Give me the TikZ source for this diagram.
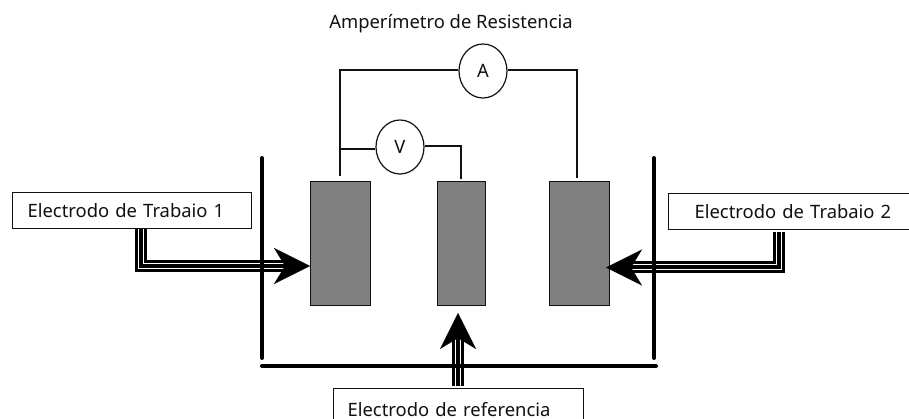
\documentclass[tikz,border=0pt]{standalone}
\usepackage{fontspec}
\setmainfont{Noto Sans}
\usetikzlibrary{arrows.meta,shapes.geometric}
\definecolor{elgray}{HTML}{808080}
\definecolor{ink}{HTML}{111111}
\tikzset{
  x=1pt,y=-1pt,
  every node/.style={font=\fontsize{18.4}{22}\selectfont,text=ink},
  electrode/.style={draw=ink,fill=elgray,line width=1.2pt,anchor=north west,inner sep=0pt},
  labelbox/.style={draw=ink,fill=white,line width=1.2pt,anchor=north west,inner xsep=0pt,inner ysep=0pt,minimum height=#1,align=left},
  meter/.style={ellipse,draw=ink,fill=white,line width=1.2pt,minimum width=48pt,minimum height=54pt,inner sep=0pt},
  wire/.style={draw=ink,line width=1.2pt},
  wall/.style={draw=black,line width=4pt,line cap=round},
  tribus/.style={draw=black,line width=12pt,
    postaction={draw=white,line width=6pt},
    postaction={draw=black,line width=4pt}},
  bighead/.style={draw=black,line width=0.1pt,-{Stealth[length=36pt,width=36pt,inset=11pt,fill=black]}},
}
\begin{document}
\begin{tikzpicture}
\useasboundingbox (0,0) rectangle (909,419);
\clip (0,0) rectangle (909,419);
% title
\node (title) at (451,24) {Amperímetro de Resistencia};
% electrodes
\node[electrode,minimum width=60pt,minimum height=124pt] (e1) at (310,181) {};
\node[electrode,minimum width=48pt,minimum height=124pt] (e2) at (437,181) {};
\node[electrode,minimum width=60pt,minimum height=124pt] (e3) at (549,181) {};
% container
\coordinate (wl1) at (262,158);
\coordinate (wl2) at (262,358);
\coordinate (wr1) at (654,158);
\coordinate (wr2) at (654,358);
\coordinate (fl) at (262,366);
\coordinate (fr) at (656,366);
% label boxes
\node[labelbox=36pt,text width=239pt,minimum width=239pt] (t1) at (12,192) {\hspace*{15pt}\raisebox{-3pt}{Electrodo de Trabaio 1}};
\node[labelbox=36pt,text width=260pt,minimum width=260pt] (t2) at (668,193) {\hspace*{26pt}\raisebox{-3pt}{Electrodo de Trabaio 2}};
\node[labelbox=44pt,text width=250pt,minimum width=250pt] (t3) at (333,388) {\hspace*{14pt}\raisebox{1.5pt}{Electrodo de referencia}};
% triple leads
\coordinate (c1) at (141,266);
\coordinate (b1) at (287,266);
\coordinate (n1) at (274,266);
\coordinate (tip1) at (310,266);
\coordinate (s1) at (141,229);
\path[tribus] (s1) -- (c1) -- (b1);
\draw[bighead] (n1) -- (tip1);
\coordinate (c2) at (778.5,267.5);
\coordinate (b2) at (630,267.5);
\coordinate (n2) at (642,267.5);
\coordinate (tip2) at (606,267.5);
\coordinate (s2) at (778.5,232);
\path[tribus] (s2) -- (c2) -- (b2);
\draw[bighead] (n2) -- (tip2);
\coordinate (s3) at (458,386);
\coordinate (b3) at (458,338);
\coordinate (n3) at (458,349);
\coordinate (tip3) at (458,313);
\path[tribus] (s3) -- (b3);
\draw[bighead] (n3) -- (tip3);
% walls over the leads
\draw[wall] (wl1) -- (wl2);
\draw[wall] (wr1) -- (wr2);
\draw[wall] (fl) -- (fr);
% meters
\node[meter] (A) at (483,71) {\raisebox{-2pt}{A}};
\node[meter] (V) at (400,147) {\raisebox{-2pt}{V}};
\coordinate (a1) at (340,70);
\coordinate (a2) at (340,176);
\coordinate (a3) at (577,70);
\coordinate (a4) at (577,178);
\coordinate (v1) at (340,149);
\coordinate (v2) at (461,146);
\coordinate (v3) at (461,179);
\draw[wire] (A.west |- a1) -- (a1) -- (a2);
\draw[wire] (A.east |- a3) -- (a3) -- (a4);
\draw[wire] (V.west |- v1) -- (v1);
\draw[wire] (V.east |- v2) -- (v2) -- (v3);
\end{tikzpicture}
\end{document}
